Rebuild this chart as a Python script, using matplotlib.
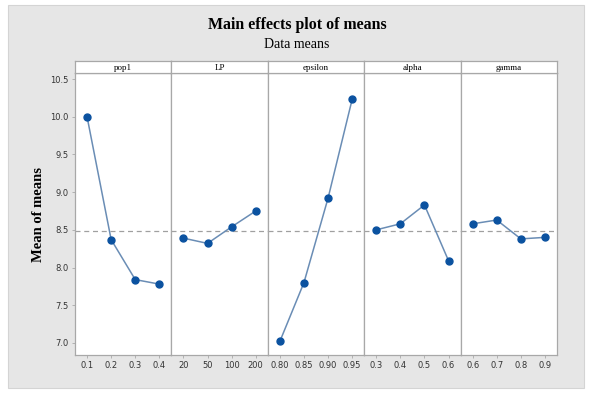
import matplotlib
matplotlib.use('Agg')
import matplotlib.pyplot as plt
from matplotlib.patches import Rectangle

factors = ['pop1', 'LP', 'epsilon', 'alpha', 'gamma']
levels = [
    ['0.1', '0.2', '0.3', '0.4'],
    ['20', '50', '100', '200'],
    ['0.80', '0.85', '0.90', '0.95'],
    ['0.3', '0.4', '0.5', '0.6'],
    ['0.6', '0.7', '0.8', '0.9'],
]
means = [
    [10.00, 8.37, 7.84, 7.78],
    [8.39, 8.32, 8.54, 8.75],
    [7.02, 7.80, 8.92, 10.23],
    [8.50, 8.58, 8.83, 8.09],
    [8.58, 8.63, 8.38, 8.40],
]
grand_mean = 8.49
y_ticks = [7.0, 7.5, 8.0, 8.5, 9.0, 9.5, 10.0, 10.5]

W, H = 591, 394
fig = plt.figure(figsize=(W / 100, H / 100), dpi=100)
fig.patch.set_facecolor('white')

# grey backdrop, kept behind the axes
fig.patches.append(Rectangle((8 / W, 6 / H), 576 / W, 383 / H, transform=fig.transFigure,
                             facecolor='#e6e6e6', edgecolor='#d4d4d4', lw=0.8, zorder=-10))

fig.text(297 / W, 1 - 25 / H, 'Main effects plot of means', ha='center', va='center',
         family='Liberation Serif', fontweight='bold', fontsize=11.4)
fig.text(297 / W, 1 - 44 / H, 'Data means', ha='center', va='center',
         family='Liberation Serif', fontsize=10)

left, right = 75, 557
top, bottom = 73, 355
strip_h = 12
pw = (right - left) / len(factors)
edge = '#a8a8a8'

for i, (name, labs, vals) in enumerate(zip(factors, levels, means)):
    x0 = left + i * pw
    ax = fig.add_axes([x0 / W, (H - bottom) / H, pw / W, (bottom - top) / H])
    xs = range(len(vals))
    ax.axhline(grand_mean, color='#a0a0a0', ls=(0, (4, 3)), lw=0.9, zorder=1)
    ax.plot(xs, vals, color='#6a8db5', lw=1.1, zorder=2)
    ax.plot(xs, vals, 'o', color='#0b52a0', ms=5, zorder=3)
    ax.set_xlim(-0.5, len(vals) - 0.5)
    ax.set_ylim(6.84, 10.58)
    ax.set_xticks(list(xs))
    ax.set_xticklabels(labs, family='DejaVu Sans', fontsize=6, color='#333333')
    ax.tick_params(axis='both', length=2.5, width=0.6, color=edge, pad=2)
    ax.set_yticks(y_ticks)
    if i == 0:
        ax.set_yticklabels([f'{v:.1f}' for v in y_ticks], family='DejaVu Sans',
                           fontsize=6, color='#333333')
        ax.set_ylabel('Mean of means', family='Liberation Serif', fontweight='bold',
                      fontsize=10.5)
        ax.yaxis.set_label_coords((45 - x0) / pw, 0.5)
    else:
        ax.tick_params(axis='y', left=False, labelleft=False)
    for s in ax.spines.values():
        s.set_color(edge)
        s.set_linewidth(0.9)

    # strip header
    sax = fig.add_axes([x0 / W, (H - top) / H, pw / W, strip_h / H])
    sax.set_xticks([])
    sax.set_yticks([])
    sax.set_facecolor('white')
    for s in sax.spines.values():
        s.set_color(edge)
        s.set_linewidth(0.9)
    sax.text(0.5, 0.45, name, ha='center', va='center', transform=sax.transAxes,
             family='Liberation Serif', fontsize=6.5)

fig.savefig('out.png', dpi=100)
